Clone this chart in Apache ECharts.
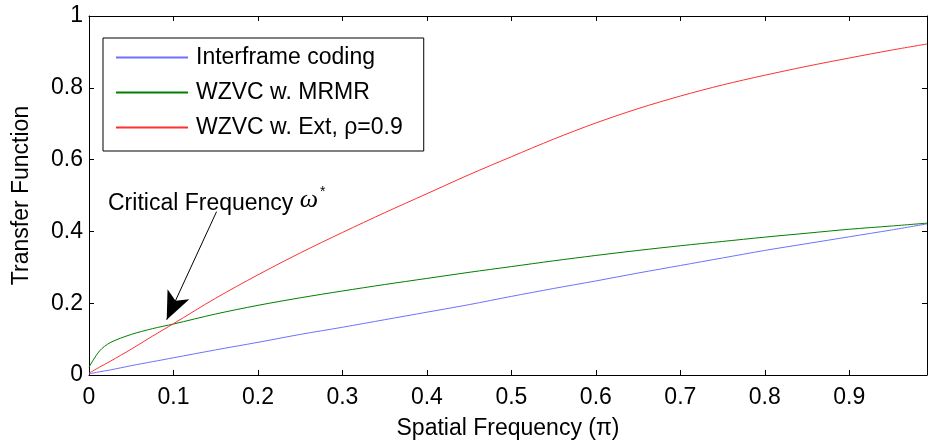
<!DOCTYPE html>
<html>
<head>
<meta charset="utf-8">
<script src="https://cdn.jsdelivr.net/npm/echarts@6/dist/echarts.min.js"></script>
<style>
html,body{margin:0;padding:0;background:#fff;}
#c{width:928px;height:445px;}
</style>
</head>
<body>
<div id="c"></div>
<script>
// Spatial frequency (π)
const freq = [0, 0.0125, 0.025, 0.05, 0.075, 0.1, 0.15, 0.2, 0.25, 0.3, 0.35, 0.4, 0.45, 0.5, 0.55, 0.6, 0.65, 0.7, 0.75, 0.8, 0.85, 0.9, 0.95, 0.992];
const interframe = [0.003, 0.009, 0.014, 0.026, 0.037, 0.048, 0.07, 0.091, 0.113, 0.133, 0.154, 0.175, 0.196, 0.219, 0.241, 0.262, 0.284, 0.305, 0.326, 0.347, 0.366, 0.385, 0.404, 0.421];
const mrmr = [0.022, 0.067, 0.09, 0.113, 0.129, 0.142, 0.17, 0.194, 0.215, 0.234, 0.252, 0.269, 0.286, 0.302, 0.318, 0.333, 0.347, 0.36, 0.372, 0.384, 0.395, 0.406, 0.415, 0.423];
const ext = [0.005, 0.022, 0.038, 0.072, 0.108, 0.143, 0.214, 0.279, 0.34, 0.397, 0.452, 0.505, 0.558, 0.608, 0.657, 0.702, 0.742, 0.777, 0.808, 0.835, 0.86, 0.883, 0.905, 0.922];
const seriesNames = ['Interframe coding', 'WZVC w. MRMR', 'WZVC w. Ext, \u03c1=0.9'];
const xTicks = [0, 0.1, 0.2, 0.3, 0.4, 0.5, 0.6, 0.7, 0.8, 0.9];
const yTicks = [0, 0.2, 0.4, 0.6, 0.8, 1];
const arrowFrom = [0.151, 0.455];
const arrowTo = [0.092, 0.154];

const FONT = 'Liberation Sans, Arial, sans-serif';
const FS = 23;
const pair = (ys) => freq.map((x, i) => [x, ys[i]]);

const chart = echarts.init(document.getElementById('c'), null, {renderer: 'canvas'});

const axisCommon = {
  type: 'value',
  axisLine: {show: true, onZero: false, lineStyle: {color: '#000', width: 1}},
  axisTick: {show: true, inside: true, length: 5, lineStyle: {color: '#000', width: 1}},
  splitLine: {show: false}
};

chart.setOption({
  animation: false,
  backgroundColor: '#fff',
  grid: {left: 89, right: 1, top: 16, bottom: 64, containLabel: false},
  legend: {
    orient: 'vertical',
    left: 103, top: 38,
    data: seriesNames,
    backgroundColor: '#fff',
    borderColor: '#000', borderWidth: 1,
    padding: [8, 21, 12, 12],
    itemWidth: 72, itemHeight: 20, itemGap: 12,
    textStyle: {fontFamily: FONT, fontSize: FS, color: '#000', lineHeight: 22, padding: [0, 0, 0, 3]},
    itemStyle: {opacity: 0}
  },
  xAxis: [
    Object.assign({}, axisCommon, {
      min: 0, max: 0.992, interval: 0.1,
      position: 'bottom',
      name: 'Spatial Frequency (\u03c0)',
      nameLocation: 'middle', nameGap: 42,
      nameTextStyle: {fontFamily: FONT, fontSize: FS, color: '#000'},
      axisLabel: {
        fontFamily: FONT, fontSize: FS, color: '#000', margin: 11,
        showMaxLabel: false,
        formatter: (v) => {
          const m = xTicks.find(t => Math.abs(t - v) < 1e-6);
          return m === undefined ? '' : String(m);
        }
      }
    }),
    Object.assign({}, axisCommon, {
      min: 0, max: 0.992, interval: 0.1, position: 'top',
      axisLabel: {show: false}
    })
  ],
  yAxis: [
    Object.assign({}, axisCommon, {
      min: 0, max: 1, interval: 0.2,
      position: 'left',
      name: 'Transfer Function',
      nameLocation: 'middle', nameGap: 56,
      nameTextStyle: {fontFamily: FONT, fontSize: FS, color: '#000'},
      axisLabel: {
        fontFamily: FONT, fontSize: FS, color: '#000', margin: 6,
        formatter: (v) => {
          const m = yTicks.find(t => Math.abs(t - v) < 1e-6);
          return m === undefined ? '' : String(m);
        }
      }
    }),
    Object.assign({}, axisCommon, {
      min: 0, max: 1, interval: 0.2, position: 'right',
      axisLabel: {show: false}
    })
  ],
  series: [
    {
      name: seriesNames[0], type: 'line', data: pair(interframe),
      symbol: 'none', smooth: 0.3, z: 3,
      lineStyle: {color: '#7070ff', width: 1},
      itemStyle: {color: '#7070ff'}
    },
    {
      name: seriesNames[1], type: 'line', data: pair(mrmr),
      symbol: 'none', smooth: 0.3, z: 3,
      lineStyle: {color: '#008000', width: 1},
      itemStyle: {color: '#008000'}
    },
    {
      name: seriesNames[2], type: 'line', data: pair(ext),
      symbol: 'none', smooth: 0.3, z: 4,
      lineStyle: {color: '#ff3030', width: 1},
      itemStyle: {color: '#ff3030'},
      markLine: {
        silent: true,
        animation: false,
        label: {show: false},
        lineStyle: {color: '#000', width: 1, type: 'solid'},
        symbolSize: [18, 28],
        data: [[
          {coord: arrowFrom, symbol: 'none'},
          {coord: arrowTo, symbol: 'arrow'}
        ]]
      }
    }
  ],
  graphic: [
    {
      type: 'text', left: 108, top: 185, z: 100,
      style: {
        text: '{a|Critical Frequency }{w|\u03c9}{s|*}',
        rich: {
          a: {fontFamily: FONT, fontSize: FS, fill: '#000', verticalAlign: 'bottom'},
          w: {fontFamily: 'Liberation Serif, Times New Roman, serif', fontStyle: 'italic', fontSize: 26, fill: '#000'},
          s: {fontFamily: FONT, fontSize: 14, fill: '#000', verticalAlign: 'top', padding: [0, 0, 16, 2]}
        }
      }
    }
  ]
});
</script>
</body>
</html>
